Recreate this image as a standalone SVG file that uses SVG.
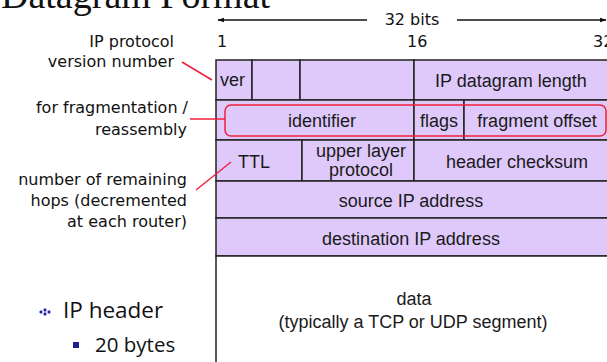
<svg xmlns="http://www.w3.org/2000/svg" width="607" height="362" viewBox="0 0 607 362">
  <defs>
    <marker id="arrowHead" viewBox="0 0 10 10" refX="9" refY="5" markerWidth="7" markerHeight="7" orient="auto-start-reverse" markerUnits="userSpaceOnUse">
      <path d="M0,1.5 L10,5 L0,8.5 z" fill="#111"/>
    </marker>
    <style>
      .cell { fill: #dfc9fb; stroke: #222; stroke-width: 1.5; }
      .blank { fill: #ffffff; stroke: #222; stroke-width: 1.5; }
      .div { stroke: #222; stroke-width: 1.5; fill: none; }
      .field { font-family: "Liberation Sans", Arial, sans-serif; font-size: 18px; fill: #1a1a1a; text-anchor: middle; }
      .note { font-family: "DejaVu Sans", "Noto Sans", sans-serif; font-size: 16px; fill: #111; text-anchor: end; }
      .bit { font-family: "DejaVu Sans", "Noto Sans", sans-serif; font-size: 16px; fill: #111; }
      .callout { stroke: #f0203a; stroke-width: 1.5; fill: none; }
      .bullet { font-family: "Open Sans", "Liberation Sans", sans-serif; fill: #111; }
    </style>
  </defs>

  <!-- title, partly above the top edge -->
  <text x="1" y="8" font-family="Liberation Serif, serif" font-size="38" fill="#111">Datagram Format</text>

  <!-- width scale -->
  <g id="scale">
    <line x1="367" y1="20" x2="218" y2="20" stroke="#111" stroke-width="1.3" marker-end="url(#arrowHead)"/>
    <line x1="457" y1="20" x2="606" y2="20" stroke="#111" stroke-width="1.3" marker-end="url(#arrowHead)"/>
    <text class="bit" x="412" y="25" text-anchor="middle">32 bits</text>
    <text class="bit" x="217" y="47">1</text>
    <text class="bit" x="407" y="47">16</text>
    <text class="bit" x="593" y="47">32</text>
  </g>

  <!-- header rows -->
  <g id="row-ver">
    <rect class="cell" x="216" y="60" width="36" height="40"/>
    <text class="field" x="220" y="86" text-anchor="start" style="text-anchor:start">ver</text>
  </g>
  <g id="row-hlen">
    <rect class="cell" x="252" y="60" width="48" height="40"/>
  </g>
  <g id="row-tos">
    <rect class="cell" x="300" y="60" width="114" height="40"/>
  </g>
  <g id="row-length">
    <rect class="cell" x="414" y="60" width="195" height="40"/>
    <text class="field" x="511" y="87">IP datagram length</text>
  </g>

  <g id="row-identifier">
    <rect class="cell" x="216" y="100" width="198" height="40"/>
    <text class="field" x="322" y="127">identifier</text>
  </g>
  <g id="row-flags">
    <rect class="cell" x="414" y="100" width="50" height="40"/>
    <text class="field" x="439" y="127">flags</text>
  </g>
  <g id="row-offset">
    <rect class="cell" x="464" y="100" width="145" height="40"/>
    <text class="field" x="537" y="127">fragment offset</text>
  </g>

  <g id="row-ttl">
    <rect class="cell" x="216" y="140" width="86" height="41"/>
    <text class="field" x="254" y="168">TTL</text>
  </g>
  <g id="row-protocol">
    <rect class="cell" x="302" y="140" width="112" height="41"/>
    <text class="field" x="361" y="157">upper layer</text>
    <text class="field" x="361" y="176">protocol</text>
  </g>
  <g id="row-checksum">
    <rect class="cell" x="414" y="140" width="195" height="41"/>
    <text class="field" x="517" y="168">header checksum</text>
  </g>

  <g id="row-source">
    <rect class="cell" x="216" y="181" width="393" height="37"/>
    <text class="field" x="411" y="207">source IP address</text>
  </g>
  <g id="row-destination">
    <rect class="cell" x="216" y="218" width="393" height="38"/>
    <text class="field" x="411" y="245">destination IP address</text>
  </g>

  <g id="row-data">
    <rect class="blank" x="216" y="256" width="393" height="110"/>
    <text class="field" x="414" y="305">data</text>
    <text class="field" x="413" y="328">(typically a TCP or UDP segment)</text>
  </g>

  <!-- fragmentation fields highlight -->
  <g id="frag-highlight">
    <rect class="callout" x="225" y="105" width="381" height="31" rx="6"/>
  </g>

  <!-- side notes -->
  <g id="note-version">
    <text class="note" x="174" y="47">IP protocol</text>
    <text class="note" x="174" y="67">version number</text>
  </g>
  <g id="note-fragmentation">
    <text class="note" x="188" y="113">for fragmentation /</text>
    <text class="note" x="187" y="135">reassembly</text>
  </g>
  <g id="note-ttl">
    <text class="note" x="187" y="185">number of remaining</text>
    <text class="note" x="187" y="206">hops (decremented</text>
    <text class="note" x="187" y="227">at each router)</text>
  </g>

  <!-- callout connectors -->
  <g id="connectors">
    <line class="callout" x1="182" y1="62" x2="212" y2="80"/>
    <line class="callout" x1="190" y1="119" x2="225" y2="119"/>
    <line class="callout" x1="196" y1="190" x2="231" y2="162"/>
  </g>

  <!-- bullet list -->
  <g id="bullets">
    <g fill="#2a2ab0">
      <polygon points="45,308 47,310 45,312 43,310"/>
      <polygon points="45,312 47,314 45,316 43,314"/>
      <polygon points="41,312 43,314 41,316 39,314" transform="translate(0,-2)"/>
      <polygon points="49,312 51,314 49,316 47,314" transform="translate(0,-2)"/>
    </g>
    <text class="bullet" x="63" y="318" font-size="22.5">IP header</text>
    <rect x="73" y="342" width="6" height="6" fill="#1f1f8f"/>
    <text class="bullet" x="95" y="352" font-size="20.5">20 bytes</text>
  </g>
</svg>
